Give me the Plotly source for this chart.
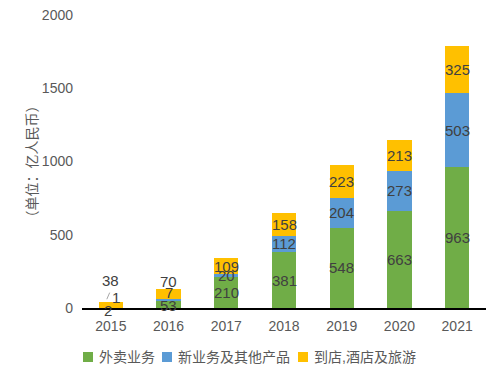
import plotly.graph_objects as go

years = [2015, 2016, 2017, 2018, 2019, 2020, 2021]
year_labels = ["2015", "2016", "2017", "2018", "2019", "2020", "2021"]
waimai = [2, 53, 210, 381, 548, 663, 963]
xinyewu = [1, 7, 20, 112, 204, 273, 503]
daodian = [38, 70, 109, 158, 223, 213, 325]

series = [
    ("外卖业务", waimai, "#70AD47"),
    ("新业务及其他产品", xinyewu, "#5B9BD5"),
    ("到店,酒店及旅游", daodian, "#FFC000"),
]

# label pixel shifts (x, y) per series per year, for labels moved out of tiny segments
shifts = [
    [(-3, -3), (0, -1), (0, 0), (0, 0), (0, 0), (0, 0), (0, 0)],
    [(5, 10), (0, 7), (0, 0), (0, 0), (0, 0), (0, 0), (0, 0)],
    [(0, 24), (0, 13), (0, 0), (0, 0), (0, 0), (0, 0), (0, 0)],
]

W, H = 503, 382
ML, MR, MT, MB = 82, 17, 15, 74
PW, PH = W - ML - MR, H - MT - MB


def px_to_paper_x(px):
    return (px - ML) / PW


def px_to_paper_y(py):
    return (H - MB - py) / PH


font_family = "Liberation Sans, Arial, Noto Sans CJK SC, sans-serif"
fig = go.Figure()
for name, vals, color in series:
    fig.add_trace(go.Bar(x=years, y=vals, name=name, marker_color=color,
                         marker_line_width=0, width=0.42, showlegend=False))

annotations = []
base = [0] * len(years)
for si, (name, vals, color) in enumerate(series):
    for i, v in enumerate(vals):
        mid = base[i] + v / 2
        dx, dy = shifts[si][i]
        annotations.append(dict(x=years[i], y=mid, text=str(v), showarrow=False,
                                xshift=dx, yshift=dy,
                                font=dict(size=15, color="#404040", family=font_family)))
        base[i] += v

shapes = [dict(type="line", xref="x", yref="y", x0=2014.93, y0=60, x1=2014.98, y1=105,
               line=dict(color="#A6A6A6", width=1))]

# legend drawn as square swatches + text labels below the plot
legend_square_px = [83, 162, 298]
legend_cy = 357
for (name, vals, color), sx in zip(series, legend_square_px):
    shapes.append(dict(type="rect", xref="paper", yref="paper",
                       x0=px_to_paper_x(sx), x1=px_to_paper_x(sx + 10),
                       y0=px_to_paper_y(legend_cy + 5), y1=px_to_paper_y(legend_cy - 5),
                       fillcolor=color, line=dict(width=0)))
    annotations.append(dict(xref="paper", yref="paper", x=px_to_paper_x(sx + 14),
                            y=px_to_paper_y(legend_cy), xanchor="left", yanchor="middle",
                            text=name, showarrow=False,
                            font=dict(size=14, color="#595959", family=font_family)))

fig.update_layout(
    barmode="stack",
    width=W, height=H,
    margin=dict(l=ML, r=MR, t=MT, b=MB, autoexpand=False),
    plot_bgcolor="white", paper_bgcolor="white",
    font=dict(family=font_family, size=14, color="#595959"),
    annotations=annotations,
    shapes=shapes,
    showlegend=False,
    xaxis=dict(range=[2014.5, 2021.5], tickmode="array", tickvals=years,
               ticktext=year_labels, showline=True, linecolor="#000000", linewidth=1.5,
               showgrid=False, zeroline=False, automargin=False, ticklabelstandoff=4,
               ticks="", tickfont=dict(size=14, color="#595959")),
    yaxis=dict(range=[0, 2000], dtick=500, showgrid=False, zeroline=False,
               showline=False, ticks="", automargin=False, ticklabelstandoff=8,
               tickfont=dict(size=14, color="#595959"),
               title=dict(text="（单位：亿人民币）", standoff=0,
                          font=dict(size=14, color="#595959"))),
)

fig.write_html("out.html", config={"displayModeBar": False},
               post_script="document.body.style.margin='0';")
